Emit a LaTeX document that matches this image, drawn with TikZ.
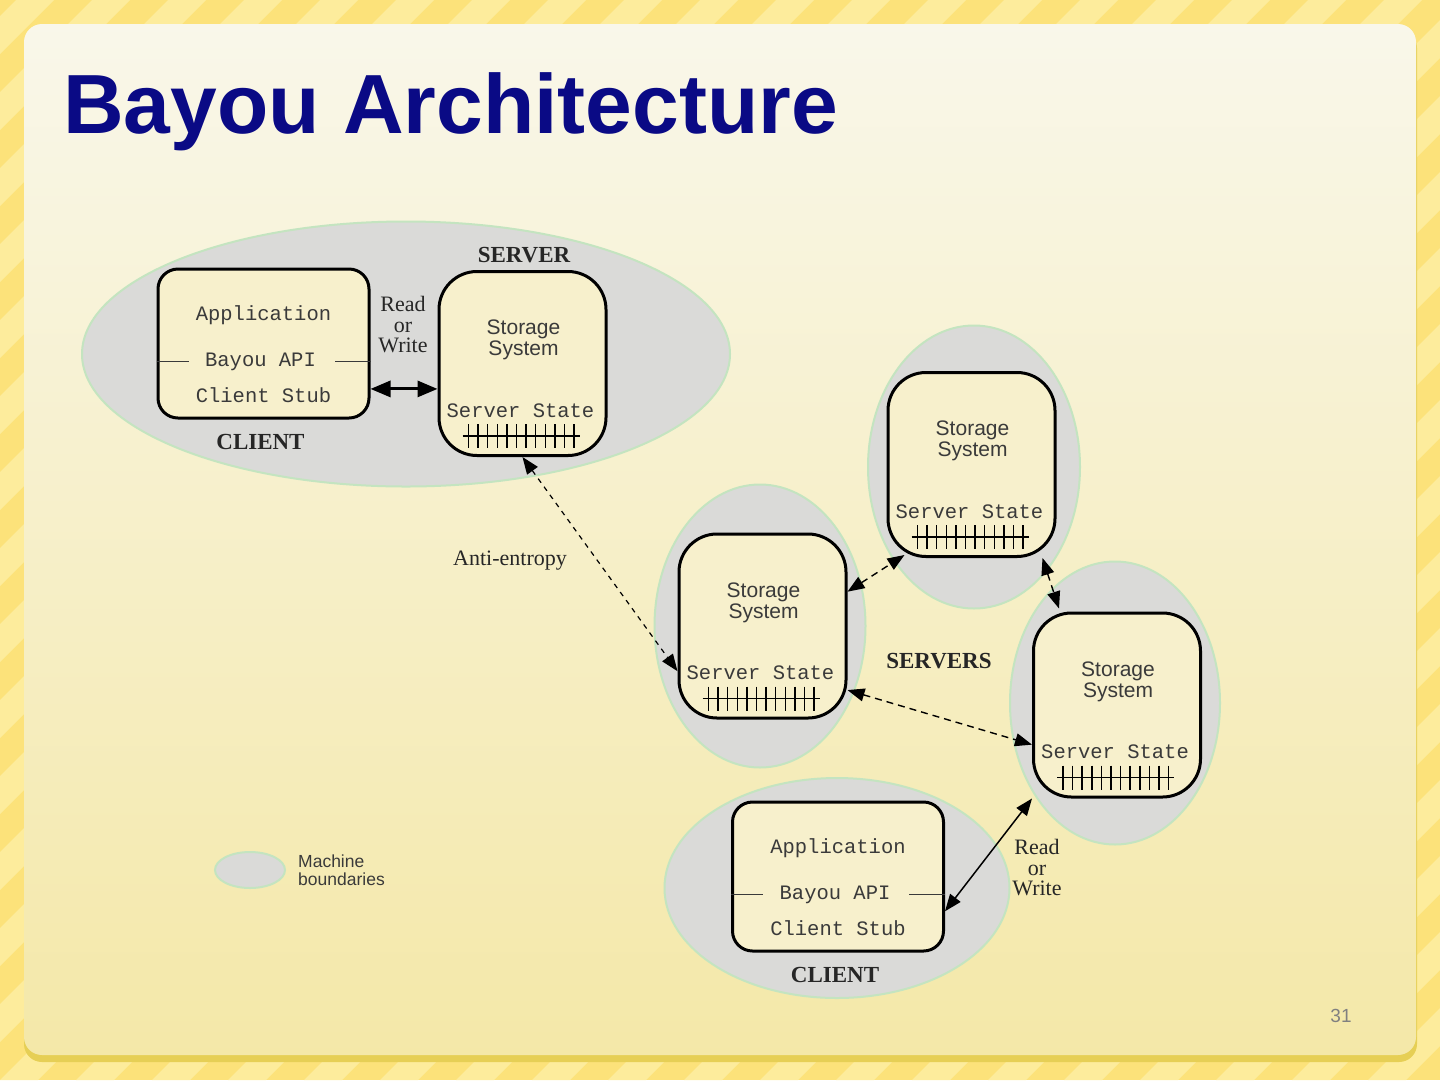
\documentclass[tikz,border=0pt]{standalone}
\usepackage{fontspec}
\setmainfont{Liberation Serif}
\setsansfont{Liberation Sans}
\setmonofont{Liberation Mono}
\usetikzlibrary{arrows.meta,shapes.geometric,positioning,calc}

\definecolor{stripeA}{HTML}{FCE27A}
\definecolor{stripeB}{HTML}{FDEC9C}
\definecolor{panelTop}{HTML}{F9F7EA}
\definecolor{panelBot}{HTML}{F4E8A8}
\definecolor{shadowY}{HTML}{E6CF55}
\definecolor{titleBlue}{HTML}{0A0A85}
\definecolor{machGray}{HTML}{DADAD8}
\definecolor{machEdge}{HTML}{C4E4C0}
\definecolor{boxFill}{HTML}{F7F0CC}
\definecolor{monoGray}{HTML}{3A3A3A}

\tikzset{
  machine/.style={ellipse, fill=machGray, draw=machEdge, line width=2pt, inner sep=0pt},
  clientbox/.style={draw=black, line width=3pt, fill=boxFill, rounded corners=20pt,
    minimum width=211pt, minimum height=149pt, inner sep=0pt},
  serverbox/.style={clientbox, rounded corners=38pt, minimum width=167pt, minimum height=184pt},
  monotext/.style={font=\fontsize{20.5}{24}\ttfamily, text=monoGray, inner sep=0pt},
  sanstext/.style={font=\fontsize{21}{21}\sffamily, text=monoGray, align=center, inner sep=0pt},
  boldlabel/.style={font=\fontsize{23}{24}\selectfont\bfseries, text=black!85, inner sep=0pt},
  rwlabel/.style={font=\fontsize{22}{20.5}\selectfont, text=black!85, align=center, inner sep=0pt},
  sync/.style={<->, line width=1.4pt, dash pattern=on 7pt off 5pt},
  >={Triangle[length=17pt,width=13pt]},
}

\begin{document}
\begin{tikzpicture}[x=1pt,y=-1pt]
\useasboundingbox (0,0) rectangle (1440,1080);

% slide background
\fill[stripeA] (0,0) rectangle (1440,1080);
\begin{scope}
\clip (0,0) rectangle (1440,1080);
\foreach \s in {-1140,-1064,...,1440}
  \fill[stripeB] (\s,1080) -- ++(38,0) -- ++(1080,-1080) -- ++(-38,0) -- cycle;
\end{scope}
\fill[shadowY, rounded corners=18pt] (24,30) rectangle (1417,1062);
\shade[top color=panelTop, bottom color=panelBot, rounded corners=18pt] (24,24) rectangle (1416,1055);

\node[anchor=base west, font=\fontsize{84}{84}\sffamily\bfseries, text=titleBlue, inner sep=0pt]
  (title) at (63,133) {Bayou Architecture};

% machine boundaries
\node[machine, minimum width=648pt, minimum height=265pt] (mTop) at (406,354) {};
\node[machine, minimum width=211pt, minimum height=283pt] (mMid) at (760,626) {};
\node[machine, minimum width=212pt, minimum height=283pt] (mUp) at (974,467) {};
\node[machine, minimum width=210pt, minimum height=283pt] (mRgt) at (1115,703) {};
\node[machine, minimum width=345pt, minimum height=220pt] (mBot) at (837,888) {};
\node[machine, minimum width=70pt, minimum height=36pt] (mKey) at (250,870) {};
\node[right=12pt of mKey, font=\fontsize{17.5}{18}\sffamily, text=monoGray, align=left, inner sep=0pt]
  (keyText) {Machine\\boundaries};

% clients
\foreach \nm/\cx/\cy in {cli1/263.5/343.5, cli2/838/876.5} {
  \node[clientbox] (\nm) at (\cx,\cy) {};
  \node[monotext] at (\cx,\cy-28) {Application};
  \node[monotext] (\nm-api) at (\cx-3,\cy+18) {Bayou API};
  \draw[monoGray, line width=1.2pt] (\nm.west |- \nm-api) -- ++(32,0);
  \draw[monoGray, line width=1.2pt] (\nm.east |- \nm-api) -- ++(-36,0);
  \node[monotext] at (\cx,\cy+52) {Client Stub};
  \node[boldlabel] at (\cx-3,\cy+98) {CLIENT};
}

% servers
\foreach \nm/\cx/\cy in {srv/522.5/363.5, mid/762.5/626, up/971.5/464.5, rgt/1117/705} {
  \node[serverbox] (\nm) at (\cx,\cy) {};
  \node[sanstext] at (\cx+1,\cy-23.5) {Storage\\System};
  \node[monotext] at (\cx-2,\cy+47) {Server State};
  \draw[line width=1.2pt] (\cx-60,\cy+72.5) -- (\cx+57,\cy+72.5);
  \foreach \k in {0,...,11}
    \draw[line width=1.5pt] (\cx-54+\k*9.6,\cy+60.5) -- ++(0,24);
}

\node[boldlabel] (srvLabel) at (524,255) {SERVER};
\node[boldlabel] (srvsLabel) at (939,661) {SERVERS};
\node[rwlabel] (rw1) at (403,325) {Read\\or\\Write};
\node[rwlabel] (rw2) at (1037,868) {Read\\or\\Write};
\node[font=\fontsize{22}{24}\selectfont, text=black!85, inner sep=0pt] (antiLabel) at (510,561) {Anti-entropy};
\node[font=\fontsize{19}{20}\sffamily, text=black!50, inner sep=0pt] (pageNo) at (1341,1016) {31};

% read / write
\draw[<->, line width=3pt, >={Triangle[length=20pt,width=16pt]}] (cli1.-23) -- (cli1.-23 -| srv.west);
\draw[<->, line width=1.5pt] (rgt.south west) -- (cli2.-18);

% anti-entropy
\draw[sync, line width=1.2pt, dash pattern=on 5pt off 5pt] (srv.south) -- (mid.208);
\draw[sync] (mid.22) -- ($(up.south west)+(18,-3)$);
\draw[sync] ($(up.south east)+(-14,0)$) -- ($(rgt.north west)+(27,-3)$);
\draw[sync] (mid.-37) -- (rgt.205);
\end{tikzpicture}
\end{document}
